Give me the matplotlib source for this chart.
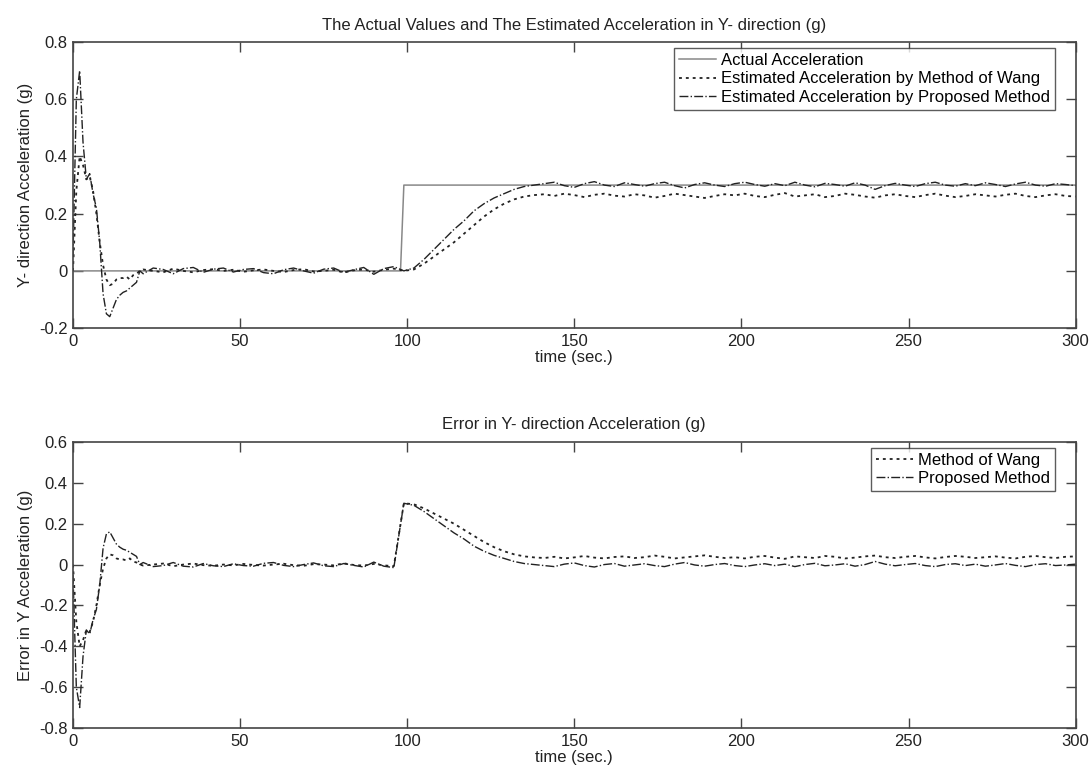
import numpy as np
import matplotlib
matplotlib.use("Agg")
import matplotlib.pyplot as plt
from matplotlib.ticker import FormatStrFormatter

plt.rcParams["font.family"] = ["Liberation Sans", "DejaVu Sans"]
plt.rcParams["axes.unicode_minus"] = False

# ── data ──
t_act = [0, 98, 99, 300]
a_act = [0.0, 0.0, 0.3, 0.3]

t_est = list(range(0, 21)) + list(range(21, 301, 3))

# Method of Wang: transient 0..20 s, flat 21..99 s, rise + steady 102..300 s
wang_start = [0.0, 0.28, 0.40, 0.37, 0.32, 0.33, 0.28, 0.20, 0.10, 0.02, -0.03,
              -0.05, -0.045, -0.03, -0.025, -0.025, -0.02, -0.03, -0.015, -0.01, 0.0]
wang_flat = [0.005, 0.0, -0.005, 0.008, 0.0, -0.005, 0.003, 0.006, 0.0, 0.004,
             -0.003, 0.002, 0.005, 0.0, -0.004, 0.003, 0.006, -0.002, 0.0, 0.004,
             -0.006, 0.002, 0.005, -0.003, 0.004, 0.008, 0.0]
wang_rise = [0.005, 0.025, 0.05, 0.075, 0.10, 0.13, 0.16, 0.19, 0.215, 0.235,
             0.25, 0.26, 0.265]
wang_steady = [0.268, 0.262, 0.27, 0.265, 0.258, 0.266, 0.27, 0.263, 0.26, 0.268,
               0.264, 0.256, 0.262, 0.27, 0.265, 0.26, 0.255, 0.262, 0.268, 0.264,
               0.27, 0.262, 0.258, 0.266, 0.272, 0.26, 0.264, 0.268, 0.258, 0.262,
               0.27, 0.266, 0.26, 0.256, 0.264, 0.268, 0.262, 0.258, 0.265, 0.27,
               0.263, 0.258, 0.262, 0.268, 0.264, 0.26, 0.266, 0.27, 0.262, 0.258,
               0.264, 0.268, 0.262, 0.26]

# Proposed method
prop_start = [0.05, 0.60, 0.70, 0.45, 0.32, 0.34, 0.27, 0.22, 0.10, -0.08, -0.15,
              -0.16, -0.13, -0.10, -0.085, -0.075, -0.07, -0.06, -0.05, -0.04, 0.0]
prop_flat = [-0.01, 0.01, 0.005, -0.01, 0.008, 0.012, -0.005, 0.006, 0.01, -0.004,
             0.005, 0.008, -0.006, -0.01, 0.004, 0.01, 0.0, -0.008, 0.006, 0.01,
             -0.005, 0.004, 0.012, -0.012, 0.008, 0.015, 0.0]
prop_rise = [0.01, 0.04, 0.075, 0.11, 0.145, 0.175, 0.21, 0.235, 0.255, 0.27,
             0.285, 0.295, 0.30]
prop_steady = [0.305, 0.31, 0.298, 0.292, 0.305, 0.312, 0.3, 0.295, 0.308, 0.302,
               0.296, 0.305, 0.31, 0.298, 0.29, 0.302, 0.308, 0.3, 0.295, 0.305,
               0.31, 0.302, 0.296, 0.305, 0.298, 0.31, 0.3, 0.294, 0.306, 0.302,
               0.296, 0.308, 0.3, 0.285, 0.298, 0.306, 0.3, 0.295, 0.305, 0.31,
               0.3, 0.296, 0.305, 0.298, 0.308, 0.302, 0.295, 0.304, 0.31, 0.3,
               0.296, 0.305, 0.302, 0.298]

top_yticks = [-0.2, 0, 0.2, 0.4, 0.6, 0.8]
bot_yticks = [-0.8, -0.6, -0.4, -0.2, 0, 0.2, 0.4, 0.6]

wang = np.array(wang_start + wang_flat + wang_rise + wang_steady)
prop = np.array(prop_start + prop_flat + prop_rise + prop_steady)
t_est = np.array(t_est)

# error = actual - estimated
actual_at_est = np.interp(t_est, t_act, a_act)
err_wang = actual_at_est - wang
err_prop = actual_at_est - prop

EDGE = "#444444"
TXT = "#222222"
DOT = (0, (1.6, 2.2))
FS = 12


def style(ax, ylim, yticks):
    ax.set_xlim(0, 300)
    ax.set_ylim(*ylim)
    ax.set_xticks(range(0, 301, 50))
    ax.set_yticks(yticks)
    ax.yaxis.set_major_formatter(FormatStrFormatter("%g"))
    ax.tick_params(direction="in", top=True, right=True, length=7, width=1,
                   colors=EDGE, labelcolor=TXT, labelsize=FS, pad=4)
    for s in ax.spines.values():
        s.set_color(EDGE)
        s.set_linewidth(1.2)
    ax.set_xlabel("time (sec.)", fontsize=FS, color=TXT, labelpad=1)


def legend(ax):
    lg = ax.legend(loc="upper right", bbox_to_anchor=(0.979, 0.979), fontsize=FS,
                   frameon=True, fancybox=False, edgecolor="#333333",
                   handlelength=2.2, handletextpad=0.3, borderpad=0.3,
                   labelspacing=0.2, borderaxespad=0.0)
    lg.get_frame().set_linewidth(1.0)


fig = plt.figure(figsize=(10.91, 7.72), dpi=100)
ax1 = fig.add_axes([0.0669, 0.575, 0.919, 0.3705])
ax2 = fig.add_axes([0.0669, 0.057, 0.919, 0.3705])

# ── top: actual vs estimated ──
ax1.plot(t_act, a_act, "-", color="#888888", lw=1.1, label="Actual Acceleration")
ax1.plot(t_est, wang, linestyle=DOT, color="#222222", lw=1.3,
         label="Estimated Acceleration by Method of Wang")
ax1.plot(t_est, prop, "-.", color="#222222", lw=1.0,
         label="Estimated Acceleration by Proposed Method")
style(ax1, (-0.2, 0.8), top_yticks)
ax1.set_ylabel("Y- direction Acceleration (g)", fontsize=FS, color=TXT)
ax1.set_title("The Actual Values and The Estimated Acceleration in Y- direction (g)",
              fontsize=FS, color=TXT, pad=9)
legend(ax1)

# ── bottom: error ──
ax2.plot(t_est, err_wang, linestyle=DOT, color="#222222", lw=1.3, label="Method of Wang")
ax2.plot(t_est, err_prop, "-.", color="#222222", lw=1.0, label="Proposed Method")
style(ax2, (-0.8, 0.6), bot_yticks)
ax2.set_ylabel("Error in Y Acceleration (g)", fontsize=FS, color=TXT)
ax2.set_title("Error in Y- direction Acceleration (g)", fontsize=FS, color=TXT, pad=9)
legend(ax2)

fig.savefig("out.png", dpi=100)
